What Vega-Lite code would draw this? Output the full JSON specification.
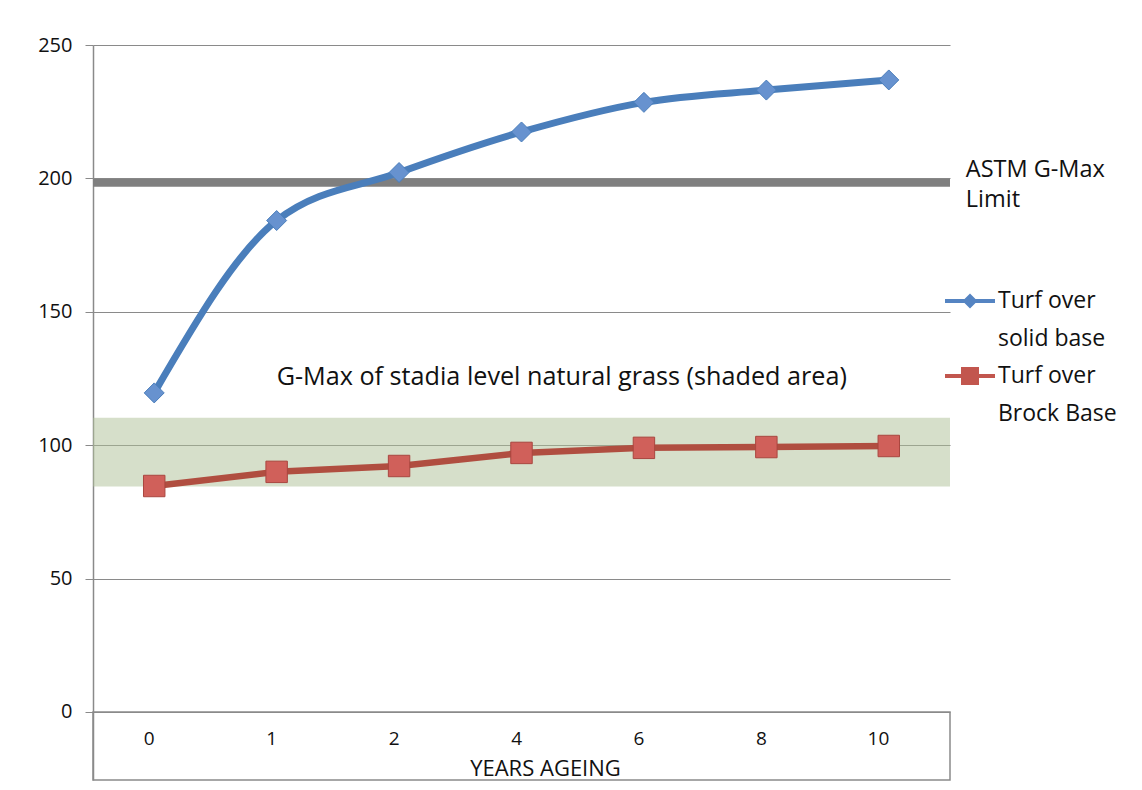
{
  "$schema": "https://vega.github.io/schema/vega-lite/v6.json",
  "width": 857,
  "height": 735,
  "autosize": "none",
  "padding": {"left": 93, "top": 45, "right": 192, "bottom": 10},
  "background": "white",
  "config": {"view": {"stroke": null}, "font": "Open Sans"},
  "data": {
    "values": [
      {"year": 0, "series": "Turf over solid base", "g": 119.6},
      {"year": 1, "series": "Turf over solid base", "g": 184.2},
      {"year": 2, "series": "Turf over solid base", "g": 202.2},
      {"year": 4, "series": "Turf over solid base", "g": 217.4},
      {"year": 6, "series": "Turf over solid base", "g": 228.5},
      {"year": 8, "series": "Turf over solid base", "g": 233.1},
      {"year": 10, "series": "Turf over solid base", "g": 236.9},
      {"year": 0, "series": "Turf over Brock Base", "g": 84.7},
      {"year": 1, "series": "Turf over Brock Base", "g": 90.0},
      {"year": 2, "series": "Turf over Brock Base", "g": 92.2},
      {"year": 4, "series": "Turf over Brock Base", "g": 97.1},
      {"year": 6, "series": "Turf over Brock Base", "g": 99.0},
      {"year": 8, "series": "Turf over Brock Base", "g": 99.3},
      {"year": 10, "series": "Turf over Brock Base", "g": 99.7}
    ]
  },
  "layer": [
    {
      "data": {"values": [{}]},
      "mark": {"type": "rect", "fill": "#AEBF95", "opacity": 0.5},
      "encoding": {
        "y": {"datum": 84.5, "type": "quantitative"},
        "y2": {"datum": 110.3}
      }
    },
    {
      "data": {"values": [{}]},
      "mark": {"type": "rect", "fill": null, "stroke": "#8a8a8a", "strokeWidth": 1.5},
      "encoding": {
        "y": {"datum": -25.5, "type": "quantitative"},
        "y2": {"datum": 0}
      }
    },
    {
      "data": {"values": [{}]},
      "mark": {"type": "rule", "stroke": "#7f7f7f", "strokeWidth": 8},
      "encoding": {"y": {"datum": 198.4, "type": "quantitative"}}
    },
    {
      "mark": {"type": "line", "strokeWidth": 7, "interpolate": "monotone", "color": "#4A7EBB"},
      "transform": [{"filter": "datum.series == 'Turf over solid base'"}],
      "encoding": {
        "x": {"field": "year", "type": "ordinal"},
        "y": {"field": "g", "type": "quantitative"}
      }
    },
    {
      "mark": {"type": "line", "strokeWidth": 6.5, "color": "#B04E40"},
      "transform": [{"filter": "datum.series == 'Turf over Brock Base'"}],
      "encoding": {
        "x": {"field": "year", "type": "ordinal"},
        "y": {"field": "g", "type": "quantitative"}
      }
    },
    {
      "mark": {"type": "point", "filled": true, "opacity": 1, "shape": "diamond", "size": 400, "fill": "#6792CF", "stroke": "#4A7EBB", "strokeWidth": 1},
      "transform": [{"filter": "datum.series == 'Turf over solid base'"}],
      "encoding": {
        "x": {"field": "year", "type": "ordinal"},
        "y": {"field": "g", "type": "quantitative"}
      }
    },
    {
      "mark": {"type": "point", "filled": true, "opacity": 1, "shape": "square", "size": 460, "fill": "#D0605A", "stroke": "#A9463F", "strokeWidth": 1},
      "transform": [{"filter": "datum.series == 'Turf over Brock Base'"}],
      "encoding": {
        "x": {"field": "year", "type": "ordinal"},
        "y": {"field": "g", "type": "quantitative"}
      }
    },
    {
      "mark": {"type": "point", "filled": true, "opacity": 0},
      "encoding": {
        "x": {
          "field": "year",
          "type": "ordinal",
          "scale": {"type": "point", "padding": 0.5},
          "axis": {
            "orient": "bottom",
            "offset": -68,
            "domain": false,
            "ticks": false,
            "tickSize": 0,
            "grid": false,
            "labelAngle": 0,
            "labelFontSize": 19,
            "labelColor": "#111",
            "labelPadding": 26,
            "title": "YEARS AGEING",
            "titleFontSize": 22,
            "titleFontWeight": "normal",
            "titleColor": "#111",
            "titlePadding": 10,
            "titleX": 452
          }
        },
        "y": {
          "field": "g",
          "type": "quantitative",
          "scale": {"domain": [-25.5, 250], "nice": false, "zero": false},
          "axis": {
            "values": [0, 50, 100, 150, 200, 250],
            "grid": true,
            "gridColor": "#8a8a8a",
            "gridWidth": 1.2,
            "tickSize": 8,
            "tickColor": "#8a8a8a",
            "domainColor": "#8a8a8a",
            "domainWidth": 1.5,
            "labelFontSize": 20,
            "labelColor": "#111",
            "labelPadding": 13,
            "title": null
          }
        },
        "color": {
          "field": "series",
          "type": "nominal",
          "scale": {
            "domain": ["Turf over solid base", "Turf over Brock Base"],
            "range": ["#5584C2", "#C2564E"]
          },
          "legend": {
            "orient": "none",
            "legendX": 852,
            "legendY": 231,
            "padding": 0,
            "title": null,
            "symbolSize": 2500,
            "symbolStrokeWidth": 0,
            "symbolOpacity": 1,
            "labelFontSize": 23,
            "labelColor": "#111",
            "labelLimit": 300,
            "labelOffset": 3,
            "rowPadding": 0,
            "labelExpr": "datum.label == 'Turf over solid base' ? ['Turf over', 'solid base'] : ['Turf over', 'Brock Base']",
            "encode": {
              "symbols": {
                "update": {
                  "shape": {"signal": "datum.value == 'Turf over solid base' ? 'M-1,-0.08H1V0.08H-1Z M0,-0.3L0.3,0L0,0.3L-0.3,0Z' : 'M-1,-0.08H1V0.08H-1Z M-0.36,-0.36H0.36V0.36H-0.36Z'"},
                  "opacity": {"value": 1},
                  "fillOpacity": {"value": 1}
                }
              },
              "labels": {"update": {"lineHeight": {"value": 38}}}
            }
          }
        }
      }
    },
    {
      "data": {"values": [{}]},
      "mark": {"type": "text", "align": "left", "baseline": "middle", "fontSize": 25.2, "color": "#111"},
      "encoding": {
        "x": {"datum": 1, "type": "ordinal"},
        "y": {"datum": 125.5, "type": "quantitative"},
        "text": {"value": "G-Max of stadia level natural grass (shaded area)"}
      }
    },
    {
      "data": {"values": [{}]},
      "mark": {"type": "text", "align": "left", "baseline": "middle", "fontSize": 23.5, "color": "#111", "dx": 77, "lineHeight": 30},
      "encoding": {
        "x": {"datum": 10, "type": "ordinal"},
        "y": {"datum": 203.1, "type": "quantitative"},
        "text": {"value": ["ASTM G-Max", "Limit"]}
      }
    }
  ]
}
